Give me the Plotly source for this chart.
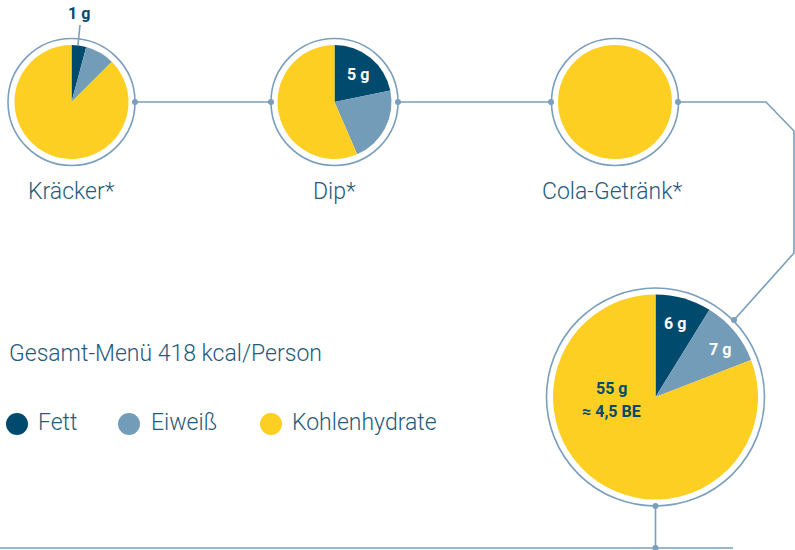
import plotly.graph_objects as go

W, H = 795, 550

# ---- data ----
nutrients = ["Fett", "Eiweiß", "Kohlenhydrate"]
colors = ["#004a6d", "#739cb8", "#fdcf22"]
foods = ["Kräcker*", "Dip*", "Cola-Getränk*"]
kraecker = [1, 2, 21]
dip = [5, 5, 13]
cola = [0, 0, 21]
menu = [6, 7, 55]
menu_title = "Gesamt-Menü 418 kcal/Person"
menu_carb_text = ["55 g", "≈ 4,5 BE"]

TXT = "#1f5b7c"
LINE = "#7a9fbc"
FONT = "Roboto, Liberation Sans, Arial, sans-serif"
BOLD = "Roboto, Liberation Sans, Arial, sans-serif"

fig = go.Figure()

def px_dom(cx, cy, r):
    return dict(x=[(cx - r) / W, (cx + r) / W], y=[1 - (cy + r) / H, 1 - (cy - r) / H])

pies = [(kraecker, 71.5, 102, 57), (dip, 334.5, 102, 57), (cola, 615, 102, 57), (menu, 655.5, 397, 102.5)]
for vals, cx, cy, r in pies:
    fig.add_trace(go.Pie(values=vals, labels=nutrients, sort=False, direction="clockwise",
                         rotation=0, marker=dict(colors=colors, line=dict(width=0)),
                         textinfo="none", hoverinfo="skip", domain=px_dom(cx, cy, r),
                         showlegend=False))

shapes = []
# outer rings
for cx, cy, r in [(71.5, 102, 63.5), (334.5, 102, 63.5), (615, 102, 63.5), (655.5, 397, 109)]:
    shapes.append(dict(type="circle", xref="x", yref="y", x0=cx - r, x1=cx + r, y0=cy - r, y1=cy + r,
                       line=dict(color=LINE, width=1.6)))

# connector lines
conn_x = [135, 271, None, 398, 551, None, 678, 766, 794, 794, 734, None, 655.5, 655.5, None, 0, 733, None, 80, 78]
conn_y = [102, 102, None, 102, 102, None, 102, 102, 131, 253, 320, None, 506, 548, None, 548, 548, None, 25, 45]
fig.add_trace(go.Scatter(x=conn_x, y=conn_y, mode="lines", line=dict(color=LINE, width=1.6),
                         hoverinfo="skip", showlegend=False, cliponaxis=False))
# dots
dot_x = [135, 271, 398, 551, 678, 734, 655.5, 655.5]
dot_y = [102, 102, 102, 102, 102, 320, 506, 548]
fig.add_trace(go.Scatter(x=dot_x, y=dot_y, mode="markers", marker=dict(color=LINE, size=6),
                         hoverinfo="skip", showlegend=False, cliponaxis=False))

# legend markers
leg_x = [17, 129, 271]
fig.add_trace(go.Scatter(x=leg_x, y=[424] * 3, mode="markers",
                         marker=dict(color=colors, size=22), hoverinfo="skip", showlegend=False))

ann = []
for name, cx in zip(foods, [71.5, 334.5, 612]):
    ann.append(dict(x=cx, y=191, text=name, showarrow=False, xanchor="center", yanchor="middle",
                    font=dict(family=FONT, size=23, color=TXT, weight=300)))
ann.append(dict(x=7, y=353, text=menu_title, showarrow=False, xanchor="left", yanchor="middle",
                font=dict(family=FONT, size=23, color=TXT, weight=300)))
for name, tx in zip(nutrients, [36, 149, 290]):
    ann.append(dict(x=tx, y=422, text=name, showarrow=False, xanchor="left", yanchor="middle",
                    font=dict(family=FONT, size=23, color=TXT, weight=300)))

def bold(x, y, t, c):
    ann.append(dict(x=x, y=y, text="<b>%s</b>" % t, showarrow=False, xanchor="center", yanchor="middle",
                    font=dict(family=BOLD, size=16, color=c)))

bold(79, 13, f"{kraecker[0]} g", "#004a6d")
bold(358, 74, f"{dip[0]} g", "white")
bold(675, 323, f"{menu[0]} g", "white")
bold(720, 349, f"{menu[1]} g", "white")
bold(611, 388, menu_carb_text[0], "#004a6d")
bold(611, 411, menu_carb_text[1], "#004a6d")

fig.update_layout(width=W, height=H, margin=dict(l=0, r=0, t=0, b=0),
                  paper_bgcolor="white", plot_bgcolor="rgba(0,0,0,0)",
                  xaxis=dict(range=[0, W], visible=False, fixedrange=True),
                  yaxis=dict(range=[H, 0], visible=False, fixedrange=True),
                  shapes=shapes, annotations=ann, showlegend=False)

fig.write_html("out.html", config={"displayModeBar": False},
               post_script="document.body.style.margin='0px';document.body.style.overflow='hidden';")
